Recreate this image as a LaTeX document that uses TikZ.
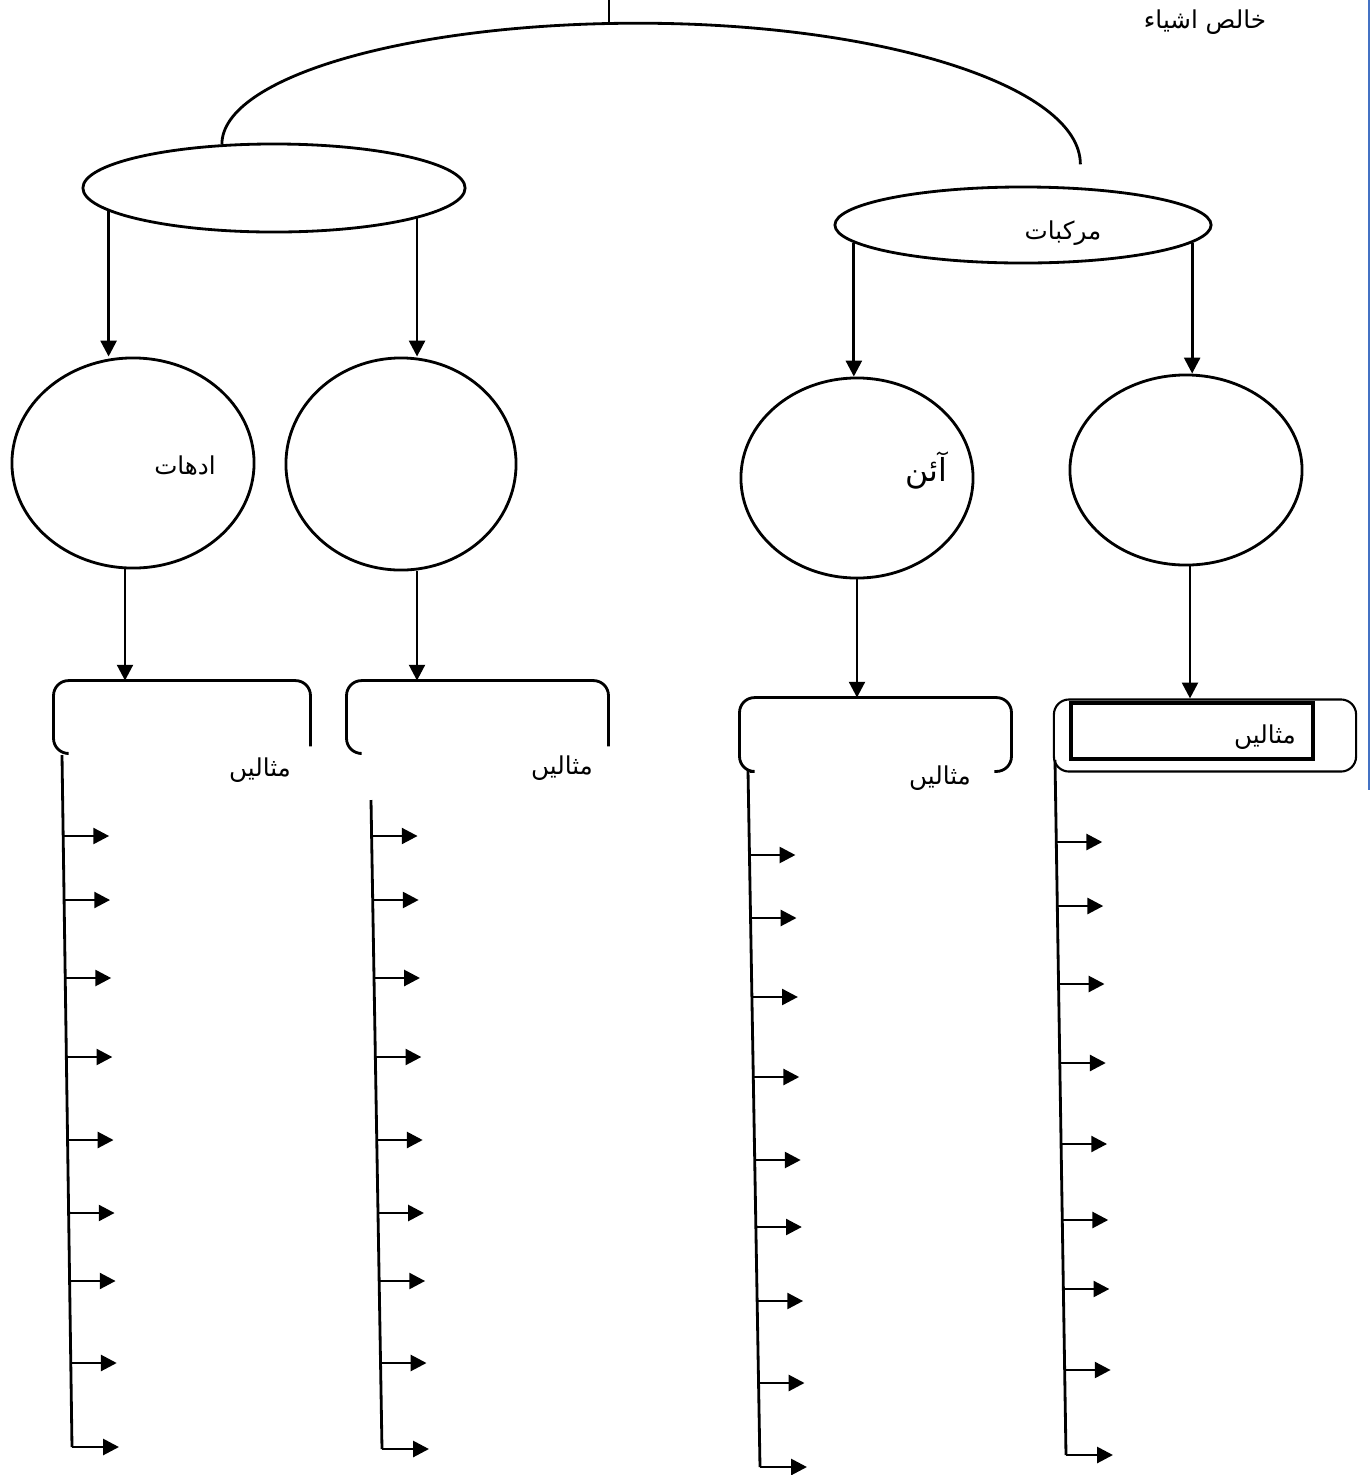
\documentclass[tikz,border=0pt]{standalone}
\usepackage{fontspec}
\newfontfamily\urdufont[Script=Arabic]{DejaVu Sans}
\TeXXeTstate=1
\usepackage{tikz}
\usetikzlibrary{positioning,shapes,arrows.meta,calc}
\definecolor{pageblue}{RGB}{68,114,196}
\newcommand{\urtext}[1]{\urdufont\beginR #1\endR}
\tikzstyle{oval}=[%
      ellipse, draw=black, line width=0.8pt, inner sep=0pt
]
\tikzstyle{frame}=[%
      rectangle, draw=none, inner sep=0pt
]
\tikzstyle{ur}=[%
      font=\fontsize{7}{9}\selectfont, inner sep=1pt
]

\begin{document}
\begin{tikzpicture}[x=0.01cm, y=-0.01cm,
    line width=0.8pt,
    >={Triangle[length=4.5pt,width=4.5pt]}
  ]
    \useasboundingbox (0,0) rectangle (1371,1475);

    % top level
    \node[oval, minimum width=3.82cm, minimum height=0.88cm] (elem) at (274,188)  {};
    \node[oval, minimum width=3.76cm, minimum height=0.76cm] (comp) at (1023,225) {};
    \node[oval, minimum width=2.42cm, minimum height=2.10cm] (metal)    at (133,463)  {};
    \node[oval, minimum width=2.30cm, minimum height=2.12cm] (nonmetal) at (401,464)  {};
    \node[oval, minimum width=2.32cm, minimum height=2.00cm] (ion)      at (857,478)  {};
    \node[oval, minimum width=2.32cm, minimum height=1.90cm] (molec)    at (1186,470) {};

    % example boxes
    \node[frame, minimum width=2.54cm, minimum height=0.70cm] (ex1) at (182,717)   {};
    \node[frame, minimum width=2.59cm, minimum height=0.70cm] (ex2) at (477.5,717) {};
    \node[frame, minimum width=2.69cm, minimum height=0.71cm] (ex3) at (875.5,734.5) {};
    \node[draw, rounded corners=0.15cm, line width=0.6pt, minimum width=3.02cm, minimum height=0.72cm] (ex4) at (1205,735.5) {};
    \node[draw, line width=1.3pt, minimum width=2.42cm, minimum height=0.56cm] (ex4in) at (1192,731) {};

    \draw[rounded corners=0.15cm] ([xshift=0.13cm]ex1.south west) -- (ex1.south west) -- (ex1.north west) -- (ex1.north east) -- ([yshift=0.07cm]ex1.south east);
    \draw[rounded corners=0.15cm] ([xshift=0.13cm]ex2.south west) -- (ex2.south west) -- (ex2.north west) -- (ex2.north east) -- ([yshift=0.07cm]ex2.south east);
    \draw[rounded corners=0.15cm] ([xshift=0.10cm]ex3.south west) -- (ex3.south west) -- (ex3.north west) -- (ex3.north east) -- (ex3.south east) -- ([xshift=-0.17cm]ex3.south east);

    % labels
    \node[ur] (pure)  at (1205,22)  {\urtext{خالص اشیاء}};
    \node[ur] (compl) at (1063,233) {\urtext{مرکبات}};
    \node[ur] (metl)  at (185,466)  {\urtext{ادھات}};
    \node[ur, font=\fontsize{9}{11}\selectfont] (ionl) at (926,470) {\urtext{آئن}};
    \node[ur] (exl1) at (260,770) {\urtext{مثالیں}};
    \node[ur] (exl2) at (562,768) {\urtext{مثالیں}};
    \node[ur] (exl3) at (940,778) {\urtext{مثالیں}};
    \node[ur] (exl4) at (1265,737) {\urtext{مثالیں}};

    % top arc
    \coordinate (tick) at (609,0);
    \draw (tick) -- ++(0,22);
    \draw (elem.140) arc[start angle=180, end angle=90, x radius=4.16cm, y radius=1.21cm]
                     arc[start angle=90, end angle=0, x radius=4.42cm, y radius=1.41cm];

    % arrows down
    \draw[->] (elem.188) -- (elem.188 |- metal.north);
    \draw[->] (elem.348) -- (elem.348 |- nonmetal.north);
    \draw[->] (comp.186) -- (comp.186 |- ion.north);
    \draw[->] (comp.354) -- (comp.354 |- molec.north);
    \draw[->] ([xshift=-0.08cm]metal.south) -- ([xshift=-0.08cm]metal.south |- ex1.north);
    \draw[->] ([xshift=0.16cm]nonmetal.south) -- ([xshift=0.16cm]nonmetal.south |- ex2.north);
    \draw[->] (ion.south) -- (ion.south |- ex3.north);
    \draw[->] ([xshift=0.04cm]molec.south) -- ([xshift=0.04cm]molec.south |- ex4.north);

    % example lists
    \coordinate (a1) at (62,755);   \coordinate (b1) at (72,1447);
    \coordinate (a2) at (371,800);  \coordinate (b2) at (382,1449);
    \coordinate (a3) at (748,770);  \coordinate (b3) at (760,1467);
    \coordinate (a4) at (1055,760); \coordinate (b4) at (1066,1455);
    \foreach \c/\ya/\yb/\ys in {1/755/1447/{836,900,978,1057,1140,1213,1281,1363},
                                2/800/1449/{836,900,978,1057,1140,1213,1281,1363},
                                3/770/1467/{855,918,997,1077,1160,1227,1301,1383},
                                4/760/1455/{842,906,984,1063,1144,1220,1289,1370}} {
      \draw (a\c) -- (b\c);
      \draw[->] (b\c) -- ++(47,0);
      \foreach \y in \ys
        \draw[->] ($(a\c)!{(\y-\ya)/(\yb-\ya)}!(b\c)$) -- ++(46,0);
    }

    % page edge
    \draw[pageblue, line width=0.6pt] (1369,0) -- (1369,790);
  \end{tikzpicture}
\end{document}
